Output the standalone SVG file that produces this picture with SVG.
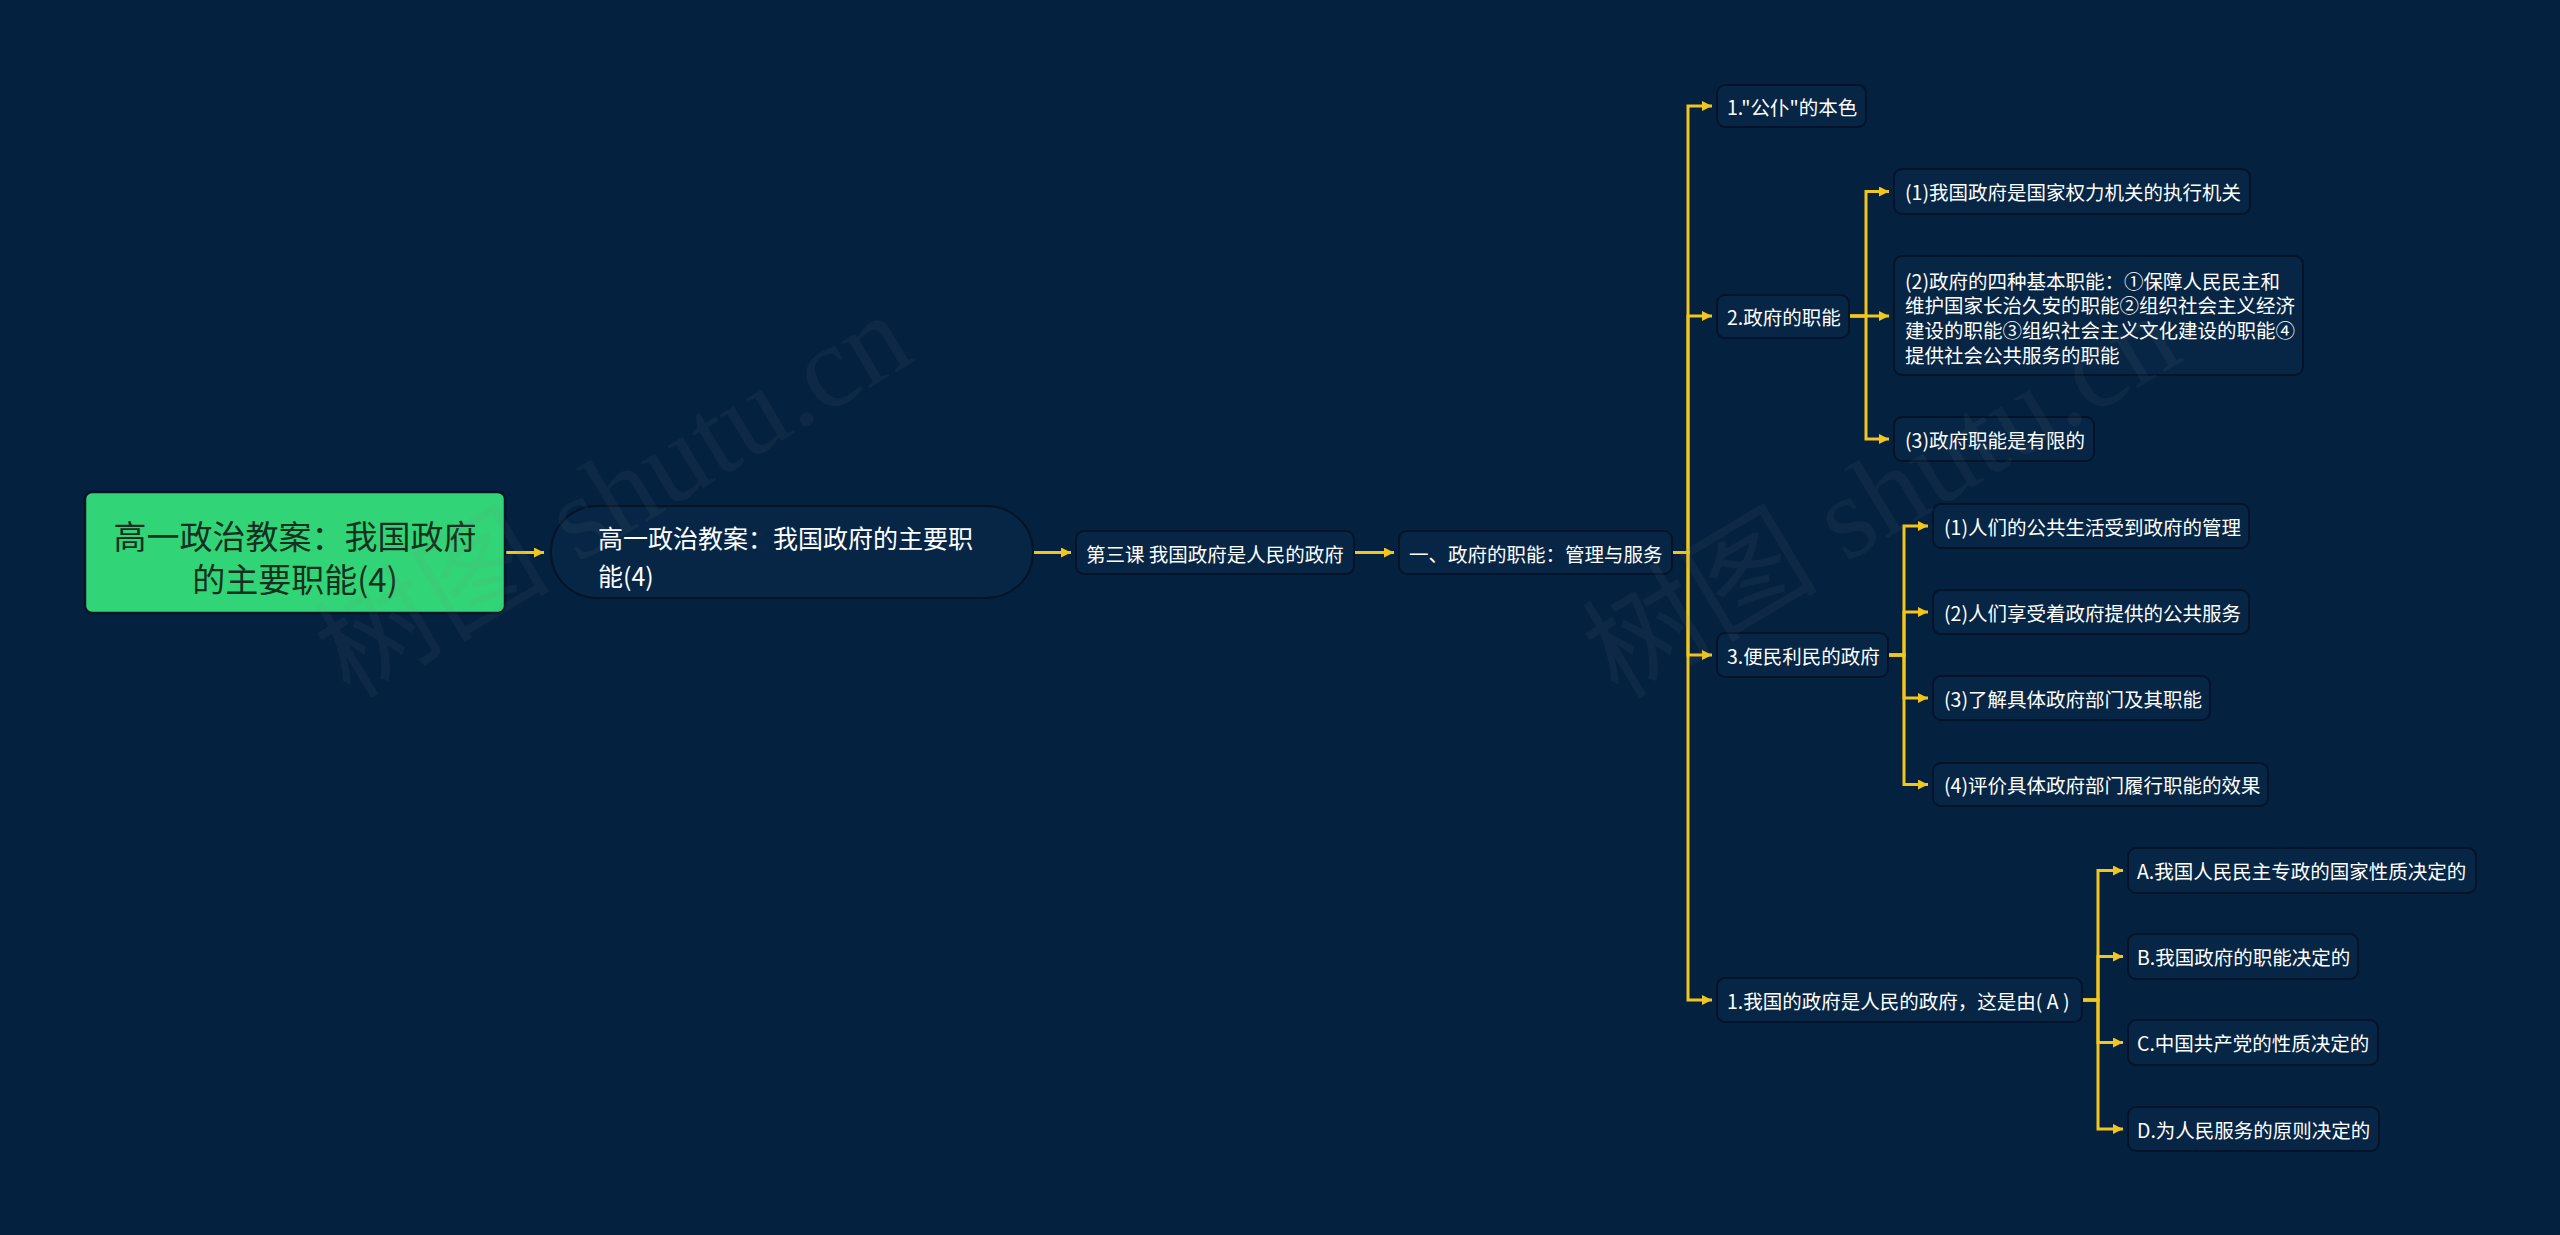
<svg xmlns="http://www.w3.org/2000/svg" width="2560" height="1235" viewBox="0 0 2560 1235">
<defs>
<marker id="arr" markerUnits="userSpaceOnUse" markerWidth="11" markerHeight="10" refX="10" refY="5" orient="auto">
<path d="M0,0 L10,5 L0,10 z" fill="#f2c61c"/>
</marker>
<style>
.bg{fill:#04213f}
.node{fill:#072645;stroke:#03142a;stroke-width:2}
.t{font-family:"Noto Sans CJK SC","Noto Sans",sans-serif;fill:#ffffff;font-size:19.5px;dominant-baseline:central}
.c{fill:none;stroke:#f2c61c;stroke-width:3;marker-end:url(#arr)}
.wm{font-family:"Liberation Serif","Noto Sans CJK SC",serif;font-size:118px;fill:#8a8a8a;opacity:0.08}
</style>
</defs>
<rect class="bg" x="0" y="0" width="2560" height="1235"/>

<g id="connectors">
<path class="c" d="M505,552.5 H544"/>
<path class="c" d="M1033,552.5 H1071"/>
<path class="c" d="M1354,552.5 H1394"/>
<path class="c" d="M1672,552.5 H1688 V106 H1712"/>
<path class="c" d="M1672,552.5 H1688 V316 H1712"/>
<path class="c" d="M1672,552.5 H1688 V655 H1712"/>
<path class="c" d="M1672,552.5 H1688 V1000 H1712"/>
<path class="c" d="M1849,316 H1866 V191.5 H1889"/>
<path class="c" d="M1849,316 H1866 V316 H1889"/>
<path class="c" d="M1849,316 H1866 V439 H1889"/>
<path class="c" d="M1888,655 H1904 V526 H1928"/>
<path class="c" d="M1888,655 H1904 V612 H1928"/>
<path class="c" d="M1888,655 H1904 V698 H1928"/>
<path class="c" d="M1888,655 H1904 V784.5 H1928"/>
<path class="c" d="M2082,1000 H2098 V870.5 H2123"/>
<path class="c" d="M2082,1000 H2098 V956.5 H2123"/>
<path class="c" d="M2082,1000 H2098 V1042.5 H2123"/>
<path class="c" d="M2082,1000 H2098 V1129 H2123"/>
</g>

<g id="root">
<rect x="85" y="492" width="420" height="121" rx="7" fill="#31d577" stroke="#061426" stroke-width="2.5"/>
<text class="t" x="295" y="535" text-anchor="middle" style="font-size:33px;fill:#16301f">高一政治教案：我国政府</text>
<text class="t" x="295" y="578" text-anchor="middle" style="font-size:33px;fill:#16301f">的主要职能(4)</text>
</g>

<g id="n2">
<rect class="node" x="551" y="506" width="482" height="92" rx="46" stroke-width="2.5"/>
<text class="t" x="598" y="537" style="font-size:25px">高一政治教案：我国政府的主要职</text>
<text class="t" x="598" y="575" style="font-size:25px">能(4)</text>
</g>

<g id="n3">
<rect class="node" x="1076" y="531" width="278" height="43" rx="8"/>
<text class="t" x="1086" y="553">第三课 我国政府是人民的政府</text>
</g>

<g id="n4">
<rect class="node" x="1399" y="531" width="273" height="43" rx="8"/>
<text class="t" x="1409" y="553">一、政府的职能：管理与服务</text>
</g>

<g id="n5a">
<rect class="node" x="1717" y="85" width="149" height="42" rx="8"/>
<text class="t" x="1727" y="106">1."公仆"的本色</text>
</g>

<g id="n5b">
<rect class="node" x="1717" y="295" width="132" height="43" rx="8"/>
<text class="t" x="1727" y="316">2.政府的职能</text>
</g>

<g id="n5c">
<rect class="node" x="1717" y="633" width="171" height="44" rx="8"/>
<text class="t" x="1727" y="655">3.便民利民的政府</text>
</g>

<g id="n5d">
<rect class="node" x="1717" y="978" width="365" height="44" rx="8"/>
<text class="t" x="1727" y="1000">1.我国的政府是人民的政府，这是由( A )</text>
</g>

<g id="n6a">
<rect class="node" x="1894" y="169" width="356" height="45" rx="8"/>
<text class="t" x="1905" y="191.5">(1)我国政府是国家权力机关的执行机关</text>
</g>

<g id="n6b">
<rect class="node" x="1894" y="256" width="409" height="119" rx="8"/>
<text class="t" x="1905" y="280">(2)政府的四种基本职能：①保障人民民主和</text>
<text class="t" x="1905" y="304.5">维护国家长治久安的职能②组织社会主义经济</text>
<text class="t" x="1905" y="329">建设的职能③组织社会主义文化建设的职能④</text>
<text class="t" x="1905" y="354">提供社会公共服务的职能</text>
</g>

<g id="n6c">
<rect class="node" x="1894" y="417" width="200" height="44" rx="8"/>
<text class="t" x="1905" y="439">(3)政府职能是有限的</text>
</g>

<g id="n7a">
<rect class="node" x="1933" y="504" width="316" height="44" rx="8"/>
<text class="t" x="1944" y="526">(1)人们的公共生活受到政府的管理</text>
</g>

<g id="n7b">
<rect class="node" x="1933" y="590" width="316" height="44" rx="8"/>
<text class="t" x="1944" y="612">(2)人们享受着政府提供的公共服务</text>
</g>

<g id="n7c">
<rect class="node" x="1933" y="676" width="277" height="44" rx="8"/>
<text class="t" x="1944" y="698">(3)了解具体政府部门及其职能</text>
</g>

<g id="n7d">
<rect class="node" x="1933" y="763" width="335" height="43" rx="8"/>
<text class="t" x="1944" y="784.5">(4)评价具体政府部门履行职能的效果</text>
</g>

<g id="n8a">
<rect class="node" x="2128" y="848" width="348" height="45" rx="8"/>
<text class="t" x="2137" y="870.5">A.我国人民民主专政的国家性质决定的</text>
</g>

<g id="n8b">
<rect class="node" x="2128" y="934" width="230" height="45" rx="8"/>
<text class="t" x="2137" y="956.5">B.我国政府的职能决定的</text>
</g>

<g id="n8c">
<rect class="node" x="2128" y="1020" width="250" height="45" rx="8"/>
<text class="t" x="2137" y="1042.5">C.中国共产党的性质决定的</text>
</g>

<g id="n8d">
<rect class="node" x="2128" y="1107" width="251" height="44" rx="8"/>
<text class="t" x="2137" y="1129">D.为人民服务的原则决定的</text>
</g>

<g id="watermark">
<text class="wm" transform="translate(350,700) rotate(-31)">树图 shutu.cn</text>
<text class="wm" transform="translate(1618,700) rotate(-31)">树图 shutu.cn</text>
</g>
</svg>
